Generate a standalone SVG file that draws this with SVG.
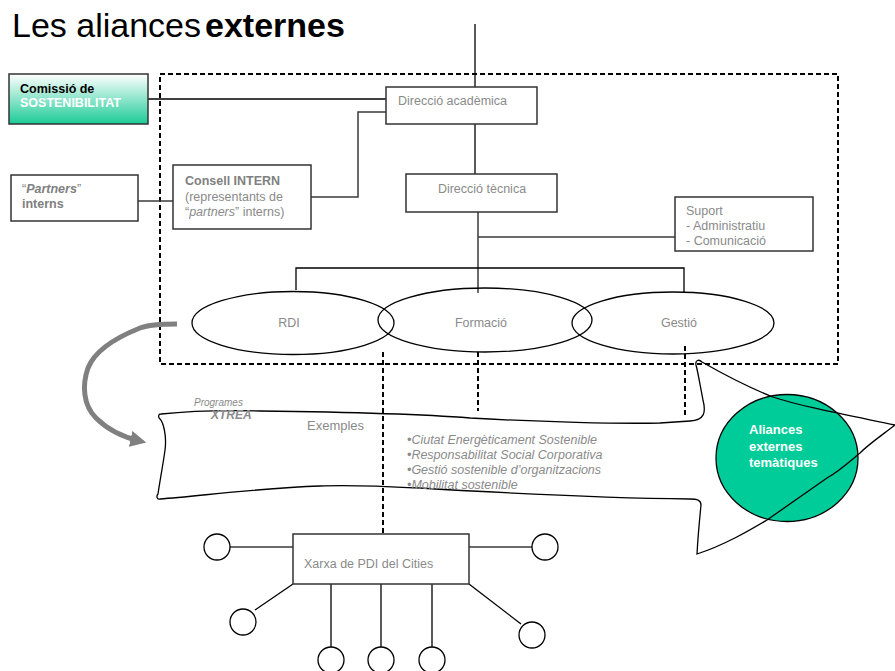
<svg xmlns="http://www.w3.org/2000/svg" width="895" height="671" viewBox="0 0 895 671">
<defs>
<linearGradient id="gcom" x1="0" y1="0" x2="0" y2="1">
<stop offset="0" stop-color="#ffffff"/>
<stop offset="1" stop-color="#1ccb97"/>
</linearGradient>
<marker id="garrow" viewBox="0 0 10 10" refX="6" refY="5" markerWidth="3.2" markerHeight="3.2" orient="auto" markerUnits="strokeWidth">
<path d="M0,0 L10,5 L0,10 Z" fill="#808080"/>
</marker>
<style>
text{font-family:"Liberation Sans",Arial,sans-serif}
.box{fill:#fff;stroke:#333;stroke-width:1.5}
.ln{fill:none;stroke:#000;stroke-width:1.3}
.ln2{fill:none;stroke:#3a3a3a;stroke-width:1.5}
.dash{fill:none;stroke:#000;stroke-width:2;stroke-dasharray:5 3}
.t{font-size:12.5px;fill:#8a8a8a}
.tb{font-size:12.5px;fill:#808080;font-weight:bold}
.ell{fill:none;stroke:#000;stroke-width:1.3}
.sm{fill:#fff;stroke:#000;stroke-width:1.3}
.it{font-size:12.5px;fill:#8a8a8a;font-style:italic}
</style>
</defs>
<rect width="895" height="671" fill="#fff"/>
<text x="12" y="37" font-size="34" fill="#000">Les aliances<tspan x="205" font-weight="bold">externes</tspan></text>

<g id="connectors">
<rect class="dash" x="160" y="74" width="678" height="290"/>
<line class="ln" x1="475" y1="24" x2="475" y2="87"/>
<line class="ln" x1="148" y1="99" x2="386" y2="99"/>
<polyline class="ln2" points="386,112 358,112 358,197 311,197"/>
<line class="ln2" x1="138" y1="201" x2="173" y2="201"/>
<line class="ln" x1="475" y1="124" x2="475" y2="174"/>
<line class="ln2" x1="478" y1="212" x2="478" y2="293"/>
<line class="ln2" x1="478" y1="237" x2="675" y2="237"/>
<polyline class="ln" points="296,290 296,268 684,268 684,292"/>
<line class="dash" x1="383" y1="352" x2="383" y2="534"/>
<line class="dash" x1="478" y1="352" x2="478" y2="411"/>
<line class="dash" x1="685" y1="346" x2="685" y2="418"/>
<line class="ln2" x1="230" y1="547" x2="293" y2="547"/>
<line class="ln2" x1="469" y1="547" x2="532" y2="547"/>
<line class="ln" x1="293" y1="584" x2="255" y2="610"/>
<line class="ln" x1="469" y1="584" x2="521" y2="624"/>
<line class="ln" x1="331" y1="584" x2="331" y2="647"/>
<line class="ln" x1="381" y1="584" x2="381" y2="647"/>
<line class="ln" x1="432" y1="584" x2="432" y2="647"/>
<path d="M177,324 C160,324 148,325 140,328 C115,338 95,350 88,368 C82,385 83,405 96,418 C108,430 122,437 140,441" fill="none" stroke="#808080" stroke-width="5" marker-end="url(#garrow)"/>
</g>

<g id="comissio">
<rect x="9" y="74" width="139" height="50" fill="url(#gcom)" stroke="#333" stroke-width="1.5"/>
<text x="20" y="93" font-size="12.5" font-weight="bold" fill="#000">Comissió de</text>
<text x="20" y="107" font-size="12.5" font-weight="bold" fill="#fff">SOSTENIBILITAT</text>
</g>

<g id="direccio-academica">
<rect class="box" x="386" y="87" width="151" height="37"/>
<text class="t" x="398" y="105">Direcció acadèmica</text>
</g>

<g id="partners">
<rect class="box" x="11" y="175" width="127" height="46"/>
<text class="tb" x="22" y="193"><tspan font-weight="normal">“</tspan><tspan font-style="italic">Partners</tspan><tspan font-weight="normal">”</tspan></text>
<text class="tb" x="22" y="208">interns</text>
</g>

<g id="consell">
<rect class="box" x="173" y="165" width="138" height="64"/>
<text class="tb" x="185" y="185">Consell INTERN</text>
<text class="t" x="185" y="201" font-size="12">(representants de</text>
<text class="t" x="185" y="216" font-size="12">“<tspan font-style="italic">partners</tspan>” interns)</text>
</g>

<g id="direccio-tecnica">
<rect class="box" x="406" y="174" width="151" height="38"/>
<text class="t" x="482" y="193" text-anchor="middle">Direcció tècnica</text>
</g>

<g id="suport">
<rect class="box" x="675" y="197" width="138" height="54"/>
<text class="t" x="686" y="215">Suport</text>
<text class="t" x="686" y="230">- Administratiu</text>
<text class="t" x="686" y="245">- Comunicació</text>
</g>

<g id="rdi">
<ellipse class="ell" cx="293" cy="323" rx="101" ry="31.5"/>
<text class="t" x="289" y="327" text-anchor="middle">RDI</text>
</g>
<g id="formacio">
<ellipse class="ell" cx="485" cy="320" rx="107" ry="32"/>
<text class="t" x="481" y="327" text-anchor="middle">Formació</text>
</g>
<g id="gestio">
<ellipse class="ell" cx="673" cy="323" rx="101" ry="31"/>
<text class="t" x="679" y="327" text-anchor="middle">Gestió</text>
</g>

<g id="aliances">
<ellipse cx="787" cy="458" rx="71" ry="63.5" fill="#00cc99" stroke="#000" stroke-width="1.3"/>
<text x="749" y="434" font-size="13" font-weight="bold" fill="#fff">Aliances</text>
<text x="749" y="451" font-size="13" font-weight="bold" fill="#fff">externes</text>
<text x="749" y="467" font-size="13" font-weight="bold" fill="#fff">temàtiques</text>
</g>

<g id="programes">
<path d="M161,414 C190,411 220,410 260,411 C340,412 420,414 470,418 C540,422 620,424 660,423 L690,421 C705,420 706,412 703,400 C700,385 698,372 696,365 C695,360 699,359 702,362 C730,378 750,388 773,397 C800,406 837,413 895,425 C885,433 870,443 860,453 C848,463 838,472 827,478 L767,520 C750,530 725,545 697,554 C698,535 700,515 701,505 C701,500 697,499 690,499 C600,498 520,494 420,488 C380,486 340,485 320,486 C260,488 200,496 160,499 C157,500 156,496 158,494 C160,480 163,465 165,450 C167,435 163,422 160,419 C158,417 158,414 161,414 Z" fill="none" stroke="#000" stroke-width="1.3"/>
<text x="194" y="406" font-size="10" font-style="italic" fill="#8a8a8a">Programes</text>
<text x="211" y="419" font-size="12" font-style="italic" font-weight="bold" fill="#8a8a8a">XTREA</text>
<text x="307" y="430" font-size="13" fill="#8a8a8a">Exemples</text>
<text class="it" x="407" y="444">•Ciutat Energèticament Sostenible</text>
<text class="it" x="407" y="459">•Responsabilitat Social Corporativa</text>
<text class="it" x="407" y="474">•Gestió sostenible d’organitzacions</text>
<text class="it" x="407" y="489">•Mobilitat sostenible</text>
</g>

<g id="xarxa">
<rect class="box" x="293" y="534" width="176" height="50"/>
<text class="t" x="304" y="568">Xarxa de PDI del Cities</text>
</g>
<g id="pdi-nodes">
<circle class="sm" cx="217" cy="547" r="13"/>
<circle class="sm" cx="545" cy="547" r="13"/>
<circle class="sm" cx="243" cy="622" r="13"/>
<circle class="sm" cx="532" cy="635" r="13"/>
<circle class="sm" cx="331" cy="660" r="13"/>
<circle class="sm" cx="381" cy="660" r="13"/>
<circle class="sm" cx="432" cy="660" r="13"/>
</g>
</svg>
